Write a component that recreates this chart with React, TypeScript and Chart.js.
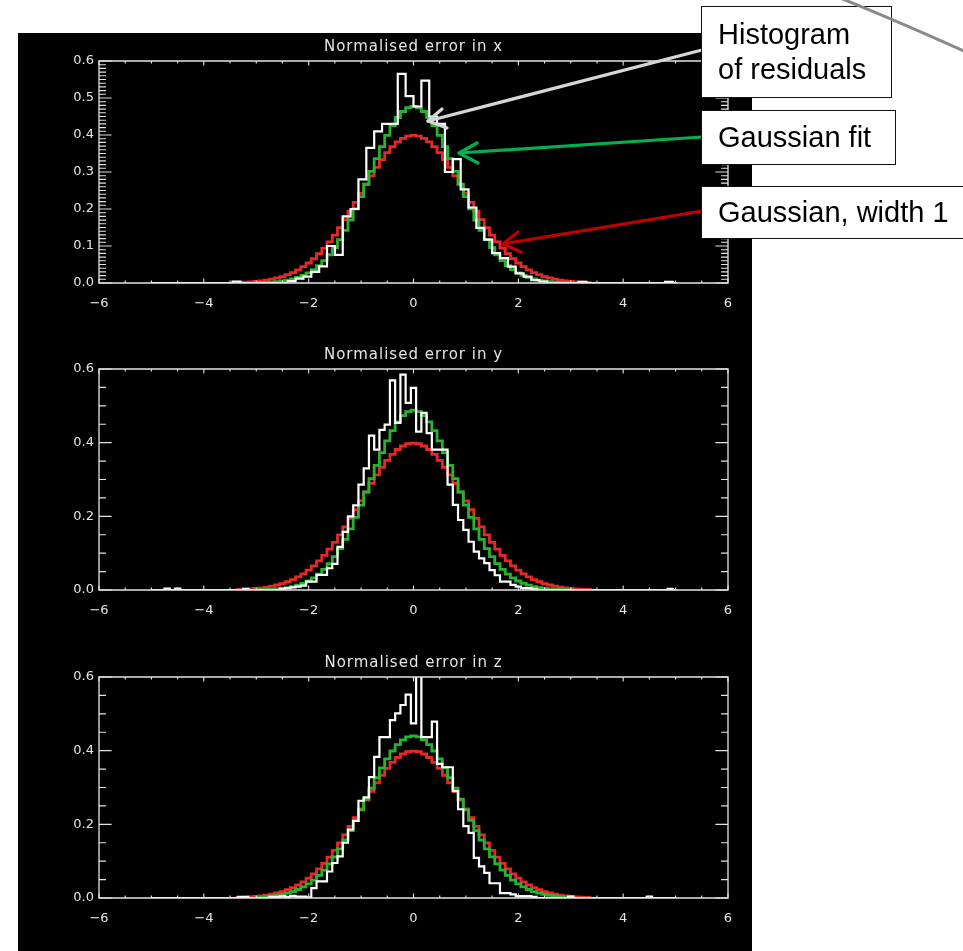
import React, { useEffect, useRef } from "react";
import { Chart, registerables } from "chart.js";

Chart.register(...registerables);

// ---------- axis ticks ----------
const X_TICKS = [-6, -4, -2, 0, 2, 4, 6];
const Y_TICKS_TOP = [0, 0.1, 0.2, 0.3, 0.4, 0.5, 0.6];
const Y_TICKS_LOW = [0, 0.2, 0.4, 0.6];

// ---------- Gaussian, width 1 (red) ----------
const RED_X = [-3.4,-3.3,-3.2,-3.1,-3.0,-2.9,-2.8,-2.7,-2.6,-2.5,-2.4,-2.3,-2.2,-2.1,-2.0,-1.9,-1.8,-1.7,-1.6,-1.5,-1.4,-1.3,-1.2,-1.1,-1.0,-0.9,-0.8,-0.7,-0.6,-0.5,-0.4,-0.3,-0.2,-0.1,0,0.1,0.2,0.3,0.4,0.5,0.6,0.7,0.8,0.9,1.0,1.1,1.2,1.3,1.4,1.5,1.6,1.7,1.8,1.9,2.0,2.1,2.2,2.3,2.4,2.5,2.6,2.7,2.8,2.9,3.0,3.1,3.2,3.3,3.4];
const RED_Y = [0.0012,0.0017,0.0024,0.0033,0.0044,0.0060,0.0079,0.0104,0.0136,0.0175,0.0224,0.0283,0.0355,0.0440,0.0540,0.0656,0.0790,0.0940,0.1109,0.1295,0.1497,0.1714,0.1942,0.2179,0.2420,0.2661,0.2897,0.3123,0.3332,0.3521,0.3683,0.3814,0.3910,0.3970,0.3989,0.3970,0.3910,0.3814,0.3683,0.3521,0.3332,0.3123,0.2897,0.2661,0.2420,0.2179,0.1942,0.1714,0.1497,0.1295,0.1109,0.0940,0.0790,0.0656,0.0540,0.0440,0.0355,0.0283,0.0224,0.0175,0.0136,0.0104,0.0079,0.0060,0.0044,0.0033,0.0024,0.0017,0.0012];

// ---------- Gaussian fit (green) ----------
const GREEN_X = [-3.0,-2.9,-2.8,-2.7,-2.6,-2.5,-2.4,-2.3,-2.2,-2.1,-2.0,-1.9,-1.8,-1.7,-1.6,-1.5,-1.4,-1.3,-1.2,-1.1,-1.0,-0.9,-0.8,-0.7,-0.6,-0.5,-0.4,-0.3,-0.2,-0.1,0,0.1,0.2,0.3,0.4,0.5,0.6,0.7,0.8,0.9,1.0,1.1,1.2,1.3,1.4,1.5,1.6,1.7,1.8,1.9,2.0,2.1,2.2,2.3,2.4,2.5,2.6,2.7,2.8,2.9,3.0];
const GREEN_Y_X = [0.0008,0.0012,0.0018,0.0026,0.0038,0.0055,0.0077,0.0108,0.0150,0.0204,0.0273,0.0361,0.0470,0.0604,0.0764,0.0954,0.1174,0.1424,0.1703,0.2007,0.2333,0.2672,0.3018,0.3360,0.3687,0.3989,0.4254,0.4473,0.4635,0.4736,0.477,0.4736,0.4635,0.4473,0.4254,0.3989,0.3687,0.3360,0.3018,0.2672,0.2333,0.2007,0.1703,0.1424,0.1174,0.0954,0.0764,0.0604,0.0470,0.0361,0.0273,0.0204,0.0150,0.0108,0.0077,0.0055,0.0038,0.0026,0.0018,0.0012,0.0008];
const GREEN_Y_Y = [0.0006,0.0009,0.0014,0.0021,0.0031,0.0045,0.0065,0.0093,0.0130,0.0179,0.0244,0.0327,0.0431,0.0560,0.0717,0.0905,0.1124,0.1376,0.1659,0.1971,0.2307,0.2660,0.3022,0.3381,0.3727,0.4047,0.4329,0.4562,0.4736,0.4844,0.488,0.4844,0.4736,0.4562,0.4329,0.4047,0.3727,0.3381,0.3022,0.2660,0.2307,0.1971,0.1659,0.1376,0.1124,0.0905,0.0717,0.0560,0.0431,0.0327,0.0244,0.0179,0.0130,0.0093,0.0065,0.0045,0.0031,0.0021,0.0014,0.0009,0.0006];
const GREEN_Y_Z = [0.0018,0.0026,0.0037,0.0052,0.0072,0.0098,0.0132,0.0175,0.0231,0.0300,0.0385,0.0488,0.0612,0.0757,0.0925,0.1117,0.1333,0.1572,0.1830,0.2106,0.2393,0.2686,0.2980,0.3265,0.3534,0.3778,0.3991,0.4165,0.4294,0.4373,0.44,0.4373,0.4294,0.4165,0.3991,0.3778,0.3534,0.3265,0.2980,0.2686,0.2393,0.2106,0.1830,0.1572,0.1333,0.1117,0.0925,0.0757,0.0612,0.0488,0.0385,0.0300,0.0231,0.0175,0.0132,0.0098,0.0072,0.0052,0.0037,0.0026,0.0018];

// ---------- Histograms of residuals (white): bin centres and heights ----------
const HIST_X_X = [-5.0,-3.525,-3.375,-3.225,-2.475,-2.325,-2.175,-2.025,-1.875,-1.725,-1.575,-1.425,-1.275,-1.125,-0.975,-0.825,-0.675,-0.525,-0.375,-0.225,-0.075,0.075,0.225,0.375,0.525,0.675,0.825,0.975,1.125,1.275,1.425,1.575,1.725,1.875,2.025,2.175,2.325,2.475,2.625,3.075,3.225,3.375,4.725,4.875,5.025];
const HIST_X_Y = [0,0,0.004,0,0,0.005,0.012,0.017,0.03,0.045,0.10,0.076,0.18,0.20,0.28,0.365,0.41,0.43,0.43,0.565,0.505,0.477,0.547,0.45,0.43,0.30,0.335,0.253,0.204,0.149,0.117,0.081,0.067,0.044,0.026,0.017,0.008,0.004,0,0,0.003,0,0,0.003,0];

const HIST_Y_X = [-5.0,-4.8,-4.7,-4.6,-4.5,-4.4,-3.3,-3.2,-3.1,-2.6,-2.5,-2.4,-2.3,-2.2,-2.1,-2.0,-1.9,-1.8,-1.7,-1.6,-1.5,-1.4,-1.3,-1.2,-1.1,-1.0,-0.9,-0.8,-0.7,-0.6,-0.5,-0.4,-0.3,-0.2,-0.1,0.0,0.1,0.2,0.3,0.4,0.5,0.6,0.7,0.8,0.9,1.0,1.1,1.2,1.3,1.4,1.5,1.6,1.7,1.8,1.9,2.0,2.1,2.2,2.3,2.4,4.8,4.9,5.0];
const HIST_Y_Y = [0,0,0.004,0,0.004,0,0,0.003,0,0,0.003,0.005,0.007,0.009,0.012,0.023,0.023,0.041,0.041,0.059,0.071,0.117,0.158,0.20,0.23,0.286,0.33,0.419,0.381,0.435,0.449,0.569,0.454,0.585,0.508,0.549,0.43,0.481,0.426,0.381,0.381,0.381,0.286,0.231,0.19,0.163,0.131,0.104,0.086,0.073,0.054,0.04,0.023,0.023,0.014,0.009,0.005,0.005,0.003,0,0,0.003,0];

const HIST_Z_X = [-5.0,-3.4,-3.3,-3.2,-3.1,-2.8,-2.7,-2.6,-2.5,-2.4,-2.3,-2.2,-2.1,-2.0,-1.9,-1.8,-1.7,-1.6,-1.5,-1.4,-1.3,-1.2,-1.1,-1.0,-0.9,-0.8,-0.7,-0.6,-0.5,-0.4,-0.3,-0.2,-0.1,0.0,0.1,0.2,0.3,0.4,0.5,0.6,0.7,0.8,0.9,1.0,1.1,1.2,1.3,1.4,1.5,1.6,1.7,1.8,1.9,2.0,2.1,2.2,2.3,2.4,2.9,3.0,3.1,4.4,4.5,4.6,5.0];
const HIST_Z_Y = [0,0,0.003,0.003,0,0,0.003,0.003,0.005,0.003,0.006,0.004,0.004,0.002,0.027,0.045,0.045,0.072,0.095,0.113,0.15,0.186,0.209,0.264,0.273,0.328,0.383,0.437,0.437,0.483,0.501,0.524,0.552,0.474,0.62,0.437,0.437,0.479,0.364,0.355,0.355,0.29,0.241,0.195,0.177,0.109,0.086,0.068,0.04,0.04,0.013,0.013,0.01,0.005,0.005,0.005,0.003,0,0,0.004,0,0,0.004,0,0];

const TITLES = ["Normalised error in x", "Normalised error in y", "Normalised error in z"];

// ---------- layout ----------
const PANEL_LEFT = 18;
const PANEL_W = 734;
const AXIS_LEFT = 99;
const AXIS_RIGHT = 728;
const PAD_TOP = 30;
const XAXIS_H = 36;
const FG = "#e4e4e4";
const RED = "rgb(232,40,40)";
const GREEN = "rgb(40,178,48)";

type PanelCfg = {
  title: string;
  top: number;
  bottom: number;
  yTicks: number[];
  yMinor: number;
  histX: number[];
  histY: number[];
  greenY: number[];
};

const PANELS: PanelCfg[] = [
  { title: TITLES[0], top: 61, bottom: 283, yTicks: Y_TICKS_TOP, yMinor: 0.01, histX: HIST_X_X, histY: HIST_X_Y, greenY: GREEN_Y_X },
  { title: TITLES[1], top: 369, bottom: 590, yTicks: Y_TICKS_LOW, yMinor: 0.05, histX: HIST_Y_X, histY: HIST_Y_Y, greenY: GREEN_Y_Y },
  { title: TITLES[2], top: 677, bottom: 898, yTicks: Y_TICKS_LOW, yMinor: 0.05, histX: HIST_Z_X, histY: HIST_Z_Y, greenY: GREEN_Y_Z },
];

const pts = (xs: number[], ys: number[]) => xs.map((x, i) => ({ x, y: ys[i] }));
const fmtX = (v: number) => (v < 0 ? "\u2212" + Math.abs(v) : String(v));

const idlFrame = {
  id: "idlFrame",
  afterDatasetsDraw(chart: any, _args: any, opts: any) {
    const { ctx, chartArea } = chart;
    const { left, right, top, bottom } = chartArea;
    const xs = chart.scales.x;
    const ys = chart.scales.y;
    const w = right - left;
    const h = bottom - top;
    ctx.save();
    ctx.strokeStyle = FG;
    ctx.lineWidth = 1.3;
    ctx.beginPath();
    ctx.rect(left, top, w, h);
    ctx.stroke();
    ctx.lineWidth = 1.1;
    ctx.beginPath();
    const xMaj = 0.02 * h;
    const yMaj = 0.02 * w;
    for (let k = -12; k <= 12; k++) {
      const v = k * 0.5;
      const px = xs.getPixelForValue(v);
      const len = X_TICKS.includes(v) ? xMaj : xMaj * 0.55;
      ctx.moveTo(px, bottom);
      ctx.lineTo(px, bottom - len);
      ctx.moveTo(px, top);
      ctx.lineTo(px, top + len);
    }
    const yTicks: number[] = opts.yTicks;
    const step: number = opts.yMinor;
    const n = Math.round(0.6 / step);
    for (let k = 0; k <= n; k++) {
      const v = k * step;
      const isMaj = yTicks.some((t) => Math.abs(t - v) < 1e-6);
      const py = ys.getPixelForValue(v);
      const len = isMaj ? yMaj : yMaj * 0.55;
      ctx.moveTo(left, py);
      ctx.lineTo(left + len, py);
      ctx.moveTo(right, py);
      ctx.lineTo(right - len, py);
    }
    ctx.stroke();
    ctx.fillStyle = FG;
    ctx.font = '15px "DejaVu Sans"';
    try {
      (ctx as any).letterSpacing = "1px";
    } catch (e) {
      /* ignore */
    }
    ctx.textAlign = "center";
    ctx.textBaseline = "middle";
    ctx.fillText(opts.title, (left + right) / 2, top - 14);
    ctx.restore();
  },
};

function Panel({ cfg }: { cfg: PanelCfg }) {
  const ref = useRef<HTMLCanvasElement | null>(null);
  const height = cfg.bottom - cfg.top + PAD_TOP + XAXIS_H;
  useEffect(() => {
    if (!ref.current) return;
    const chart = new Chart(ref.current, {
      type: "line",
      data: {
        datasets: [
          { data: pts(cfg.histX, cfg.histY), borderColor: "#ffffff", borderWidth: 2.2, stepped: "middle", pointRadius: 0, fill: false },
          { data: pts(GREEN_X, cfg.greenY), borderColor: GREEN, borderWidth: 2.8, stepped: "middle", pointRadius: 0, fill: false },
          { data: pts(RED_X, RED_Y), borderColor: RED, borderWidth: 2.8, stepped: "middle", pointRadius: 0, fill: false },
        ],
      },
      options: {
        responsive: false,
        animation: false,
        devicePixelRatio: 1,
        events: [],
        layout: { padding: { top: PAD_TOP, right: PANEL_LEFT + PANEL_W - AXIS_RIGHT, left: 0, bottom: 0 } },
        plugins: {
          legend: { display: false },
          tooltip: { enabled: false },
          title: { display: false },
          idlFrame: { title: cfg.title, yTicks: cfg.yTicks, yMinor: cfg.yMinor },
        } as any,
        scales: {
          x: {
            type: "linear",
            min: -6,
            max: 6,
            afterBuildTicks: (s: any) => {
              s.ticks = X_TICKS.map((v) => ({ value: v }));
            },
            afterFit: (s: any) => {
              s.height = XAXIS_H;
            },
            grid: { display: false, drawTicks: false },
            border: { display: false },
            ticks: {
              color: FG,
              font: { family: "DejaVu Sans", size: 13 },
              padding: 13,
              maxRotation: 0,
              autoSkip: false,
              callback: (v: any) => fmtX(Number(v)),
            },
          },
          y: {
            type: "linear",
            min: 0,
            max: 0.6,
            afterBuildTicks: (s: any) => {
              s.ticks = cfg.yTicks.map((v) => ({ value: v }));
            },
            afterFit: (s: any) => {
              s.width = AXIS_LEFT - PANEL_LEFT;
            },
            grid: { display: false, drawTicks: false },
            border: { display: false },
            ticks: {
              color: FG,
              font: { family: "DejaVu Sans", size: 13 },
              padding: 5,
              autoSkip: false,
              callback: (v: any) => Number(v).toFixed(1),
            },
          },
        },
      },
      plugins: [idlFrame as any],
    });
    return () => chart.destroy();
  }, [cfg]);
  return (
    <canvas
      ref={ref}
      width={PANEL_W}
      height={height}
      style={{ position: "absolute", left: PANEL_LEFT, top: cfg.top - PAD_TOP, width: PANEL_W, height }}
    />
  );
}

const boxStyle = (left: number, top: number, width: number, height: number): React.CSSProperties => ({
  position: "absolute",
  left,
  top,
  width,
  height,
  background: "#ffffff",
  border: "1.5px solid #111",
  boxSizing: "border-box",
});

const textStyle = (left: number, top: number): React.CSSProperties => ({
  position: "absolute",
  left,
  top,
  fontFamily: '"Liberation Sans", Arial, sans-serif',
  fontSize: 29,
  lineHeight: "35px",
  color: "#000",
  whiteSpace: "nowrap",
});

export default function App() {
  return (
    <div style={{ position: "absolute", left: 0, top: 0, width: 963, height: 951, background: "#fff", overflow: "hidden" }}>
      <div style={{ position: "absolute", left: PANEL_LEFT, top: 33, width: PANEL_W, height: 918, background: "#000" }} />
      {PANELS.map((p) => (
        <Panel key={p.title} cfg={p} />
      ))}
      <svg width={963} height={951} style={{ position: "absolute", left: 0, top: 0 }}>
        <g fill="none" strokeWidth={3.2} strokeLinecap="round" strokeLinejoin="round">
          <line x1={702} y1={50} x2={428} y2={121} stroke="#d6d6d6" />
          <polyline points="442,109 428,121 447,128" stroke="#d6d6d6" />
          <line x1={702} y1={137} x2={459} y2={153} stroke="#00b050" />
          <polyline points="477,143 459,153 478,163" stroke="#00b050" />
          <line x1={702} y1={211} x2={503} y2={244} stroke="#c00000" />
          <polyline points="518,232 503,244 521,252" stroke="#c00000" />
        </g>
      </svg>
      <div style={boxStyle(701, 6, 191, 92)} />
      <div style={textStyle(718, 17)}>
        Histogram
        <br />
        of residuals
      </div>
      <div style={boxStyle(701, 110, 195, 55)} />
      <div style={textStyle(718, 120)}>Gaussian fit</div>
      <div style={boxStyle(701, 186, 270, 53)} />
      <div style={textStyle(718, 195)}>Gaussian, width 1</div>
      <svg width={963} height={951} style={{ position: "absolute", left: 0, top: 0, pointerEvents: "none" }}>
        <path d="M 840 -2 Q 895 20 966 52" fill="none" stroke="#8a8a8a" strokeWidth={3} />
      </svg>
    </div>
  );
}
